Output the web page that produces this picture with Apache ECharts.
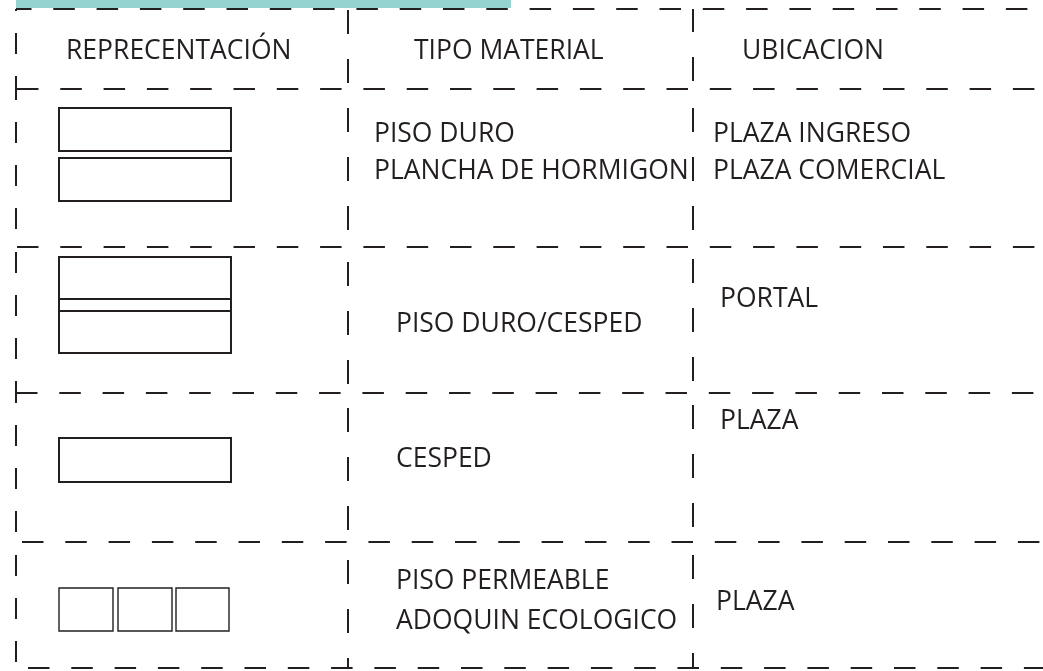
<!DOCTYPE html>
<html>
<head>
<meta charset="utf-8">
<script src="https://cdn.jsdelivr.net/npm/echarts@6/dist/echarts.min.js"></script>
<style>
html,body{margin:0;padding:0;background:#ffffff;}
#chart{width:1043px;height:671px;}
</style>
</head>
<body>
<div id="chart"></div>
<script>
// ---------- data ----------
const headers = ['REPRECENTACIÓN', 'TIPO MATERIAL', 'UBICACION'];
const symbolKinds = ['double', 'split', 'single', 'pavers'];
const materials = [
  ['PISO DURO', 'PLANCHA DE HORMIGON'],
  ['PISO DURO/CESPED'],
  ['CESPED'],
  ['PISO PERMEABLE', 'ADOQUIN ECOLOGICO']
];
const locations = [
  ['PLAZA INGRESO', 'PLAZA COMERCIAL'],
  ['PORTAL'],
  ['PLAZA'],
  ['PLAZA']
];

// ---------- layout (frame units = axis units) ----------
const colEdges = [16, 348, 693, 1043];
const rowEdges = [9, 89, 247, 393, 542, 668];
const headerPos = [[66, 51], [414, 51], [742, 51]];
const materialPos = [[374, [134, 171]], [396, [324]], [396, [459]], [396, [581, 621]]];
const locationPos = [[713, [134, 171]], [720, [299]], [720, [421]], [716, [602]]];
const symbolBoxes = {
  double: [[59, 108, 172, 43], [59, 158, 172, 43]],
  split: [[59, 257, 172, 42], [59, 299, 172, 12], [59, 311, 172, 42]],
  single: [[59, 438, 172, 44]],
  pavers: [[59, 588, 54, 43], [118, 588, 54, 43], [176, 588, 53, 43]]
};
const hAnchors = [10, 17, 17, 16, 22, 28];
const vAnchors = [
  [33, 122, 252, 425, 555],
  [10, 108, 262, 408, 560],
  [8, 108, 259, 405, 555]
];
const hDash = [21.5, 21.8];
const vDashes = [[21, 22], [24, 25], [24, 25]];
const ink = '#231f20';
const accent = '#93d4d0';
const font = '500 26.5px "Open Sans"';

function dashOffset(start, anchor, dash) {
  const p = dash[0] + dash[1];
  return (((start - anchor) % p) + p) % p;
}

function renderRow(params, api) {
  const i = api.value(0);
  const c = (x, y) => api.coord([x, y]);
  const children = [];
  if (i === 0) {
    const a = c(colEdges[0], 0), b = c(511, 8);
    children.push({type: 'rect', shape: {x: a[0], y: a[1], width: b[0] - a[0], height: b[1] - a[1]}, style: {fill: accent}});
  }
  const hLines = [i];
  if (i === rowEdges.length - 2) hLines.push(i + 1);
  hLines.forEach(function (r) {
    const p1 = c(colEdges[0], rowEdges[r]), p2 = c(colEdges[3], rowEdges[r]);
    children.push({type: 'line', shape: {x1: p1[0], y1: p1[1], x2: p2[0], y2: p2[1]},
      style: {stroke: ink, lineWidth: 2, lineDash: hDash, lineDashOffset: dashOffset(colEdges[0], hAnchors[r], hDash)}});
  });
  for (let k = 0; k < 3; k++) {
    const p1 = c(colEdges[k], rowEdges[i]), p2 = c(colEdges[k], rowEdges[i + 1]);
    children.push({type: 'line', shape: {x1: p1[0], y1: p1[1], x2: p2[0], y2: p2[1]},
      style: {stroke: ink, lineWidth: 2, lineDash: vDashes[k], lineDashOffset: dashOffset(rowEdges[i], vAnchors[k][i], vDashes[k])}});
  }
  const txt = (s, x, y) => {
    const p = c(x, y);
    children.push({type: 'text', style: {text: s, x: p[0], y: p[1], fill: ink, font: font, align: 'left', verticalAlign: 'middle'}});
  };
  if (i === 0) {
    headers.forEach((h, k) => txt(h, headerPos[k][0], headerPos[k][1]));
  } else {
    const r = i - 1;
    const kind = symbolKinds[r];
    symbolBoxes[kind].forEach(function (bx) {
      const a = c(bx[0], bx[1]), b = c(bx[0] + bx[2], bx[1] + bx[3]);
      children.push({type: 'rect', shape: {x: a[0], y: a[1], width: b[0] - a[0], height: b[1] - a[1]},
        style: {fill: null, stroke: ink, lineWidth: kind === 'pavers' ? 1.4 : 2}});
    });
    materials[r].forEach((s, j) => txt(s, materialPos[r][0], materialPos[r][1][j]));
    locations[r].forEach((s, j) => txt(s, locationPos[r][0], locationPos[r][1][j]));
  }
  return {type: 'group', children: children};
}

const chart = echarts.init(document.getElementById('chart'), null, {renderer: 'canvas'});
chart.setOption({
  animation: false,
  backgroundColor: '#ffffff',
  grid: {left: 0, right: 0, top: 0, bottom: 0},
  xAxis: {type: 'value', min: 0, max: 1043, show: false},
  yAxis: {type: 'value', min: 0, max: 671, inverse: true, show: false},
  series: [{
    type: 'custom',
    coordinateSystem: 'cartesian2d',
    clip: false,
    silent: true,
    renderItem: renderRow,
    data: [[0], [1], [2], [3], [4]]
  }]
});
</script>
</body>
</html>
